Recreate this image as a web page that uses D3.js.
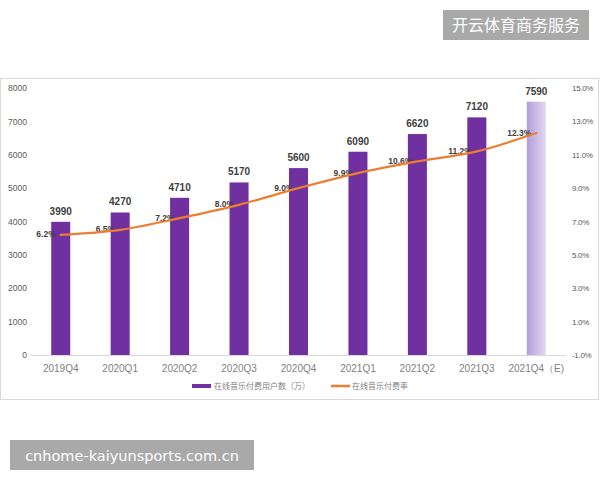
<!DOCTYPE html>
<html>
<head>
<meta charset="utf-8">
<script src="https://cdn.jsdelivr.net/npm/d3@7/dist/d3.min.js"></script>
<style>
  body { margin: 0; background: #fff; }
  svg { display: block; }
</style>
</head>
<body>
<script>
var w = 600
var h = 480

// data
var quarters = ["2019Q4", "2020Q1", "2020Q2", "2020Q3", "2020Q4", "2021Q1", "2021Q2", "2021Q3", "2021Q4\uff08E)"]
var payingUsers = [3990, 4270, 4710, 5170, 5600, 6090, 6620, 7120, 7590]   // 万
var payRate = [6.2, 6.5, 7.2, 8.0, 9.0, 9.9, 10.6, 11.2, 12.3]            // %
var leftTicks = [0, 1000, 2000, 3000, 4000, 5000, 6000, 7000, 8000]
var rightTicks = [-1, 1, 3, 5, 7, 9, 11, 13, 15]

var numFont = "'Liberation Sans', Arial, sans-serif"
var cjkFont = "'Noto Sans CJK SC', sans-serif"

var svg = d3.select("body")
            .append("svg")
            .attr("width", w)
            .attr("height", h)

var defs = svg.append("defs")
var grad = defs.append("linearGradient")
               .attr("id", "estGrad")
               .attr("x1", "0%").attr("x2", "100%")
               .attr("y1", "0%").attr("y2", "0%")
grad.append("stop").attr("offset", "0%").attr("stop-color", "#b49ddb")
grad.append("stop").attr("offset", "100%").attr("stop-color", "#e2d8f0")

// chart frame
svg.append("rect")
    .attr("x", 0.5)
    .attr("y", 78.5)
    .attr("width", 598)
    .attr("height", 321)
    .attr("fill", "#fff")
    .attr("stroke", "#d9d9d9")

var x = d3.scaleBand()
          .domain(quarters)
          .range([31, 566])
          .paddingInner(0.68)
          .paddingOuter(0.34)

var yL = d3.scaleLinear().domain([0, 8000]).range([355, 88])
var yR = d3.scaleLinear().domain([-1, 15]).range([355, 88])

// left axis
var leftAxis = svg.append("g")
    .attr("transform", "translate(27,0)")
    .call(d3.axisLeft(yL).tickValues(leftTicks).tickSize(0).tickPadding(0).tickFormat(d3.format("d")))
leftAxis.select(".domain").remove()
leftAxis.selectAll("text")
    .attr("fill", "#595959")
    .attr("font-family", numFont)
    .attr("font-size", "8.5px")

// right axis
var rightAxis = svg.append("g")
    .attr("transform", "translate(572,0)")
    .call(d3.axisRight(yR).tickValues(rightTicks).tickSize(0).tickPadding(0)
            .tickFormat(function(d) { return d.toFixed(1) + "%" }))
rightAxis.select(".domain").remove()
rightAxis.selectAll("text")
    .attr("fill", "#595959")
    .attr("font-family", numFont)
    .attr("font-size", "8px")
    .attr("letter-spacing", "-0.3px")

// bottom axis
var bottomAxis = svg.append("g")
    .attr("transform", "translate(0,355)")
    .call(d3.axisBottom(x).tickSize(0).tickPadding(10))
bottomAxis.select(".domain")
    .attr("stroke", "#d9d9d9")
    .attr("d", "M31,0.5H566")
bottomAxis.selectAll("text")
    .attr("fill", "#7f7f7f")
    .attr("font-family", numFont)
    .attr("font-size", "10px")

// bars
svg.selectAll(".bar")
    .data(payingUsers)
    .enter().append("rect")
    .attr("class", "bar")
    .attr("x", function(d, i) { return x(quarters[i]) })
    .attr("y", function(d) { return yL(d) })
    .attr("width", x.bandwidth())
    .attr("height", function(d) { return yL(0) - yL(d) })
    .attr("fill", function(d, i) { return i === quarters.length - 1 ? "url(#estGrad)" : "#7030a0" })

svg.selectAll(".barLabel")
    .data(payingUsers)
    .enter().append("text")
    .attr("class", "barLabel")
    .text(function(d) { return d })
    .attr("x", function(d, i) { return x(quarters[i]) + x.bandwidth() / 2 })
    .attr("y", function(d) { return yL(d) - 7 })
    .attr("text-anchor", "middle")
    .attr("fill", "#404040")
    .attr("font-family", numFont)
    .attr("font-weight", "bold")
    .attr("font-size", "10px")

// rate labels sit under the line
svg.selectAll(".rateLabel")
    .data(payRate)
    .enter().append("text")
    .attr("class", "rateLabel")
    .text(function(d) { return d.toFixed(1) + "%" })
    .attr("x", function(d, i) { return x(quarters[i]) + x.bandwidth() / 2 - 5 })
    .attr("y", function(d) { return yR(d) + 2.5 })
    .attr("text-anchor", "end")
    .attr("fill", "#404040")
    .attr("font-family", numFont)
    .attr("font-weight", "bold")
    .attr("font-size", "8.5px")

var line = d3.line()
             .x(function(d, i) { return x(quarters[i]) + x.bandwidth() / 2 })
             .y(function(d) { return yR(d) })
             .curve(d3.curveMonotoneX)

svg.append("path")
    .datum(payRate)
    .attr("d", line)
    .attr("fill", "none")
    .attr("stroke", "#ed7d31")
    .attr("stroke-width", 2.2)
    .attr("stroke-linecap", "round")

// legend
var legend = svg.append("g").attr("transform", "translate(0,386)")
legend.append("rect")
    .attr("x", 192).attr("y", -2)
    .attr("width", 19).attr("height", 4)
    .attr("fill", "#7030a0")
legend.append("text")
    .text("在线音乐付费用户数（万）")
    .attr("x", 214).attr("y", 3)
    .attr("fill", "#7f7f7f")
    .attr("font-family", cjkFont)
    .attr("font-size", "8px")
legend.append("line")
    .attr("x1", 331).attr("x2", 350)
    .attr("y1", 0).attr("y2", 0)
    .attr("stroke", "#ed7d31")
    .attr("stroke-width", 2.5)
legend.append("text")
    .text("在线音乐付费率")
    .attr("x", 352).attr("y", 3)
    .attr("fill", "#7f7f7f")
    .attr("font-family", cjkFont)
    .attr("font-size", "8px")

// watermark boxes
svg.append("rect")
    .attr("x", 443).attr("y", 10)
    .attr("width", 146).attr("height", 30)
    .attr("fill", "#a9a9a9")
svg.append("text")
    .text("开云体育商务服务")
    .attr("x", 516).attr("y", 31)
    .attr("text-anchor", "middle")
    .attr("fill", "#fff")
    .attr("font-family", cjkFont)
    .attr("font-size", "16px")

svg.append("rect")
    .attr("x", 10).attr("y", 440)
    .attr("width", 244).attr("height", 30)
    .attr("fill", "#a9a9a9")
svg.append("text")
    .text("cnhome-kaiyunsports.com.cn")
    .attr("x", 132).attr("y", 461)
    .attr("text-anchor", "middle")
    .attr("fill", "#fff")
    .attr("font-family", "'DejaVu Sans', sans-serif")
    .attr("font-size", "14.5px")
</script>
</body>
</html>
